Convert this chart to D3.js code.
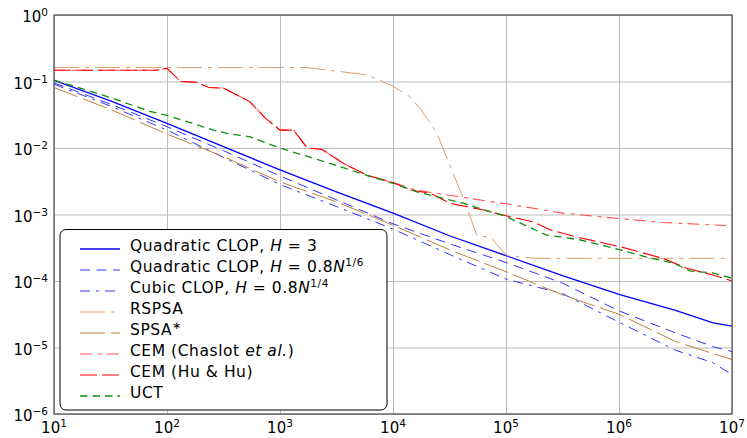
<!DOCTYPE html>
<html>
<head>
<meta charset="utf-8">
<script src="https://cdn.jsdelivr.net/npm/d3@7"></script>
<style>
  body { margin: 0; background: #fff; }
  text { font-family: "DejaVu Sans", sans-serif; fill: #000; }
</style>
</head>
<body>
<script>
(function () {
  "use strict";
  var w = 747, h = 438;
  var left = 54, right = 732, top = 15, bottom = 414;

  // tick exponents
  var xTickExp = [1, 2, 3, 4, 5, 6, 7];
  var yTickExp = [0, -1, -2, -3, -4, -5, -6];

  // shared sample points of the smooth CLOP / SPSA curves
  var gridN = [1e1, 3.16e1, 1e2, 3.16e2, 1e3, 3.16e3, 1e4, 3.16e4, 1e5, 3.16e5, 1e6, 3.16e6, 6.8e6, 1e7];
  var clopQuadH3 = [0.104, 0.0513, 0.0234, 0.0105, 0.00468, 0.00219, 0.00105, 0.000479, 0.00024, 0.00012, 6.3e-5, 3.63e-5, 2.34e-5, 2.09e-5];
  var clopQuadH16 = [0.0955, 0.0457, 0.0209, 0.00912, 0.0038, 0.00166, 0.000724, 0.000363, 0.00019, 9.3e-5, 3.55e-5, 1.66e-5, 1.03e-5, 8.7e-6];
  var clopCubicH14 = [0.0912, 0.0427, 0.0186, 0.00724, 0.00282, 0.00132, 0.000603, 0.000251, 0.000107, 6.46e-5, 2.4e-5, 9.1e-6, 5.9e-6, 3.9e-6];
  var spsa = [0.0813, 0.038, 0.0162, 0.00741, 0.00309, 0.00155, 0.000692, 0.000295, 0.000138, 6.17e-5, 3.16e-5, 1.23e-5, 8.1e-6, 6.6e-6];

  var rspsaN = [10, 1700, 3390, 5890, 7590, 1e4, 14100, 17800, 24500, 33100, 43600, 55000, 74100, 91200, 1.02e5, 1.86e5, 1e7];
  var rspsa = [0.162, 0.162, 0.141, 0.126, 0.105, 0.0851, 0.0589, 0.0372, 0.0166, 0.00468, 0.00148, 0.00049, 0.000447, 0.000295, 0.00024, 0.000219, 0.000219];

  var cemHuN = [10, 79.4, 100, 132, 182, 234, 316, 537, 741, 1000, 1320, 1740, 2340, 3630, 5890, 1e4, 14100, 21400, 31600, 63100, 1e5, 1.74e5, 2.45e5, 4.27e5, 1e6, 2.45e6, 3.98e6, 6.76e6, 1e7];
  var cemHu = [0.148, 0.148, 0.158, 0.1, 0.0977, 0.0813, 0.0794, 0.0501, 0.0282, 0.0186, 0.0186, 0.01, 0.00955, 0.00589, 0.00389, 0.00302, 0.00234, 0.00209, 0.00148, 0.00117, 0.000955, 0.000776, 0.000589, 0.000457, 0.000331, 0.000219, 0.000155, 0.000123, 0.0001];

  var cemChaslotN = [10, 79.4, 100, 132, 182, 234, 316, 537, 741, 1000, 1320, 1740, 2340, 3630, 5890, 1e4, 15800, 31600, 63100, 1e5, 3.16e5, 1e6, 2.45e6, 1e7];
  var cemChaslot = [0.148, 0.148, 0.158, 0.1, 0.0977, 0.0813, 0.0794, 0.0501, 0.0282, 0.0186, 0.0186, 0.01, 0.00955, 0.00589, 0.00389, 0.00302, 0.00234, 0.00195, 0.00162, 0.00145, 0.00105, 0.00087, 0.00076, 0.000676];

  var uctN = [10, 31.6, 70.8, 100, 170, 257, 339, 537, 1000, 3390, 6310, 1e4, 16200, 41700, 1e5, 2.29e5, 4.47e5, 1.02e6, 1.74e6, 3.02e6, 4.27e6, 6.76e6, 1e7];
  var uct = [0.105, 0.0575, 0.0355, 0.0309, 0.0234, 0.0186, 0.0166, 0.0148, 0.01, 0.00525, 0.00372, 0.00295, 0.00219, 0.00148, 0.000933, 0.00049, 0.000417, 0.000295, 0.000229, 0.000186, 0.000141, 0.000132, 0.00011];

  var series = [
    { n: gridN, v: clopQuadH3, color: "#0000ff", dash: "none", width: 1.3 },
    { n: gridN, v: clopQuadH16, color: "#3333ff", dash: "10 6.5", width: 1 },
    { n: gridN, v: clopCubicH14, color: "#3333ff", dash: "10 6 3 6", width: 1 },
    { n: rspsaN, v: rspsa, color: "#d9a070", dash: "25 6 4 6", width: 1 },
    { n: gridN, v: spsa, color: "#c0803f", dash: "25 6", width: 1 },
    { n: cemChaslotN, v: cemChaslot, color: "#ff5050", dash: "12 6 4 5", width: 1.1 },
    { n: cemHuN, v: cemHu, color: "#ff0000", dash: "17 5", width: 1.1 },
    { n: uctN, v: uct, color: "#109010", dash: "7.5 5", width: 1.3 }
  ];

  var svg = d3.select("body")
              .append("svg")
              .attr("width", w)
              .attr("height", h);

  var x = d3.scaleLog().domain([1e1, 1e7]).range([left, right]);
  var y = d3.scaleLog().domain([1e-6, 1]).range([bottom, top]);

  // grid
  svg.append("g")
     .attr("transform", "translate(0," + bottom + ")")
     .call(d3.axisBottom(x).tickValues(xTickExp.map(e => Math.pow(10, e)))
                           .tickSize(-(bottom - top)).tickFormat(""))
     .call(g => g.select(".domain").remove())
     .selectAll("line").attr("stroke", "#bdbdbd").attr("stroke-width", 1);
  svg.append("g")
     .attr("transform", "translate(" + left + ",0)")
     .call(d3.axisLeft(y).tickValues(yTickExp.map(e => Math.pow(10, e)))
                         .tickSize(-(right - left)).tickFormat(""))
     .call(g => g.select(".domain").remove())
     .selectAll("line").attr("stroke", "#bdbdbd").attr("stroke-width", 1);

  svg.append("clipPath").attr("id", "clip")
     .append("rect").attr("x", left).attr("y", top)
     .attr("width", right - left).attr("height", bottom - top);

  var line = d3.line().x(d => x(d[0])).y(d => y(d[1]));

  svg.append("g").attr("clip-path", "url(#clip)")
     .selectAll("path")
     .data(series)
     .enter()
     .append("path")
     .attr("d", s => line(s.n.map((n, i) => [n, s.v[i]])))
     .style("fill", "none")
     .style("stroke", s => s.color)
     .style("stroke-width", s => s.width)
     .style("stroke-dasharray", s => s.dash);

  // frame
  svg.append("rect")
     .attr("x", left).attr("y", top)
     .attr("width", right - left).attr("height", bottom - top)
     .attr("fill", "none").attr("stroke", "#555").attr("stroke-width", 1.3);

  // tick labels
  svg.selectAll("text.xt")
     .data(xTickExp)
     .enter()
     .append("text")
     .attr("class", "xt")
     .attr("x", e => x(Math.pow(10, e)))
     .attr("y", 433)
     .attr("text-anchor", "middle")
     .style("font-size", "15px")
     .each(function (e) {
       var t = d3.select(this);
       t.append("tspan").text("10");
       t.append("tspan").attr("dy", -6).style("font-size", "10.5px").text(e);
     });

  svg.selectAll("text.yt")
     .data(yTickExp)
     .enter()
     .append("text")
     .attr("class", "yt")
     .attr("x", 48)
     .attr("y", e => y(Math.pow(10, e)) + 7)
     .attr("text-anchor", "end")
     .style("font-size", "15px")
     .each(function (e) {
       var t = d3.select(this);
       t.append("tspan").text("10");
       t.append("tspan").attr("dy", -6).style("font-size", "10.5px")
        .text(e < 0 ? "\u2212" + (-e) : e);
     });

  // legend
  var legendLabels = [
    [["Quadratic CLOP, ", ""], ["H", "i"], [" = 3", ""]],
    [["Quadratic CLOP, ", ""], ["H", "i"], [" = 0.8", ""], ["N", "i"], ["1/6", "s"]],
    [["Cubic CLOP, ", ""], ["H", "i"], [" = 0.8", ""], ["N", "i"], ["1/4", "s"]],
    [["RSPSA", ""]],
    [["SPSA", ""], ["\u2217", "s"]],
    [["CEM (Chaslot ", ""], ["et al.", "i"], [")", ""]],
    [["CEM (Hu & Hu)", ""]],
    [["UCT", ""]]
  ];

  var lg = svg.append("g");
  lg.append("rect")
    .attr("x", 60).attr("y", 229.5)
    .attr("width", 327).attr("height", 180.5)
    .attr("rx", 6).attr("ry", 6)
    .attr("fill", "#fff").attr("stroke", "#000").attr("stroke-width", 1);

  var rows = lg.selectAll("g.row")
               .data(series)
               .enter()
               .append("g")
               .attr("class", "row")
               .attr("transform", (d, i) => "translate(0," + (249 + i * 21) + ")");

  rows.append("path")
      .attr("d", "M80,0H120")
      .style("fill", "none")
      .style("stroke", s => s.color)
      .style("stroke-width", s => s.width)
      .style("stroke-dasharray", s => s.dash);

  rows.append("text")
      .attr("x", 130)
      .attr("y", 2)
      .style("font-size", "15.5px")
      .style("letter-spacing", "0.55px")
      .each(function (s, i) {
        var t = d3.select(this);
        legendLabels[i].forEach(function (p) {
          var ts = t.append("tspan").text(p[0]);
          if (p[1] === "i") ts.style("font-style", "italic");
          if (p[1] === "s") ts.attr("dy", -6).style("font-size", "10.5px");
        });
      });
})();
</script>
</body>
</html>
